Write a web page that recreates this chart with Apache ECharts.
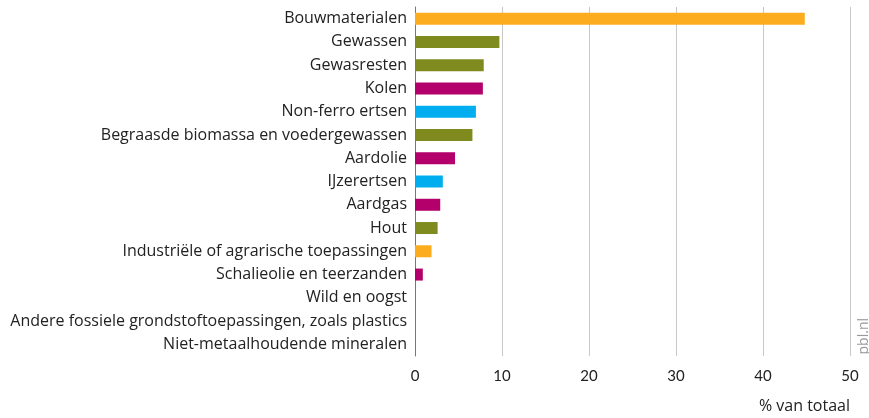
<!DOCTYPE html>
<html>
<head>
<meta charset="utf-8">
<script src="https://cdn.jsdelivr.net/npm/echarts@6/dist/echarts.min.js"></script>
<style>html,body{margin:0;padding:0;background:#fff}#c{width:869px;height:418px}</style>
</head>
<body>
<div id="c"></div>
<script>
const categories = [
  "Bouwmaterialen",
  "Gewassen",
  "Gewasresten",
  "Kolen",
  "Non-ferro ertsen",
  "Begraasde biomassa en voedergewassen",
  "Aardolie",
  "IJzerertsen",
  "Aardgas",
  "Hout",
  "Industriële of agrarische toepassingen",
  "Schalieolie en teerzanden",
  "Wild en oogst",
  "Andere fossiele grondstoftoepassingen, zoals plastics",
  "Niet-metaalhoudende mineralen"
];
const values = [44.8, 9.7, 7.9, 7.8, 7.0, 6.6, 4.6, 3.2, 2.9, 2.6, 1.9, 0.9, 0, 0, 0];
const groups = ["bouw","bio","bio","fossiel","metaal","bio","fossiel","metaal","fossiel","bio","bouw","fossiel","bio","fossiel","bouw"];
const xTicks = [0, 10, 20, 30, 40, 50];
const axisTitle = "% van totaal";
const source = "pbl.nl";

const groupColors = {bouw: "#FBAD1F", bio: "#7F8B1E", fossiel: "#B4006A", metaal: "#00AEEF"};

const chart = echarts.init(document.getElementById('c'), null, {renderer: 'canvas'});
chart.setOption({
  animation: false,
  grid: {left: 415, right: 19, top: 7, bottom: 62, containLabel: false},
  xAxis: {
    type: 'value', min: xTicks[0], max: xTicks[xTicks.length - 1], interval: 10,
    axisLine: {show: false}, axisTick: {show: false},
    splitLine: {show: true, lineStyle: {color: '#c8c8c8', width: 1}},
    axisLabel: {margin: 13, color: '#222', fontSize: 15, fontFamily: 'Lato'}
  },
  yAxis: {
    type: 'category', data: categories, inverse: true,
    axisLine: {show: true, lineStyle: {color: '#777', width: 1}},
    axisTick: {show: false},
    axisLabel: {margin: 8, color: '#222', fontSize: 16, fontFamily: 'Open Sans'}
  },
  series: [{
    type: 'bar',
    data: values.map((v, i) => ({value: v, itemStyle: {color: groupColors[groups[i]]}})),
    barWidth: 12
  }],
  graphic: [
    {type: 'text', right: 19, top: 398, style: {text: axisTitle, fill: '#222', font: '16px "Open Sans"'}},
    {type: 'text', left: 857, top: 318, rotation: Math.PI / 2,
     style: {text: source, fill: '#999', font: '14px "Open Sans"'}}
  ]
});
</script>
</body>
</html>
